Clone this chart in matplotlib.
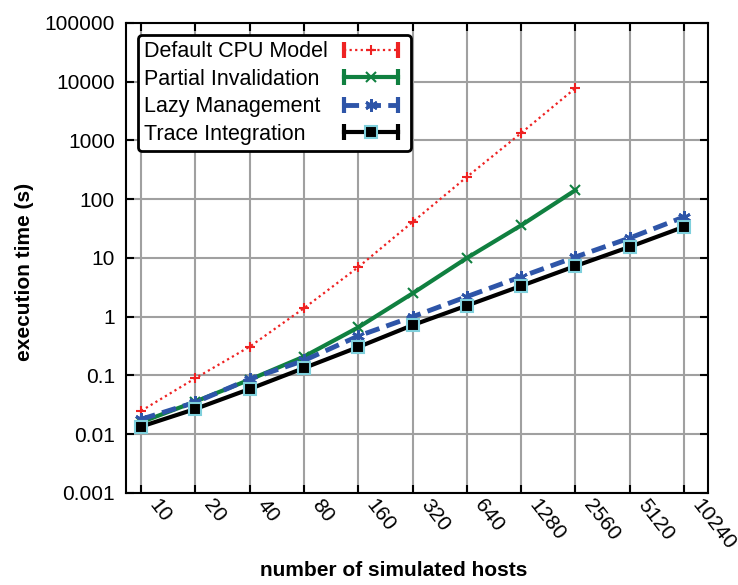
import matplotlib.pyplot as plt
import matplotlib.transforms as mtransforms
from matplotlib.lines import Line2D
from matplotlib.legend_handler import HandlerLine2D
import numpy as np

plt.rcParams['font.family'] = ['Liberation Sans', 'DejaVu Sans']

hosts = [10, 20, 40, 80, 160, 320, 640, 1280, 2560, 5120, 10240]
default_cpu = [0.025, 0.09, 0.31, 1.4, 7.0, 41, 240, 1340, 7800]
partial_inv = [0.016, 0.036, 0.085, 0.21, 0.66, 2.5, 10, 36, 143]
lazy_mgmt = [0.018, 0.035, 0.087, 0.18, 0.47, 1.0, 2.2, 4.8, 10.4, 21.9, 50]
trace_int = [0.0135, 0.027, 0.059, 0.134, 0.305, 0.72, 1.55, 3.35, 7.3, 15.5, 34]

fig = plt.figure(figsize=(7.38, 5.85), dpi=100)
ax = fig.add_axes([0.1707, 0.1573, 0.7886, 0.8034])

x = np.arange(len(hosts))
styles = [
    dict(color='#ee2222', linestyle=(0, (1, 1.5)), linewidth=1.6, marker='+',
         markersize=7, mew=1.5),
    dict(color='#108040', linestyle='-', linewidth=3, marker='x', markersize=7, mew=1.5),
    dict(color='#2e55a8', linestyle=(0, (3, 1.5)), linewidth=3.5, marker=(6, 2, 0),
         markersize=9, mew=2),
    dict(color='black', linestyle='-', linewidth=3, marker='s', markersize=9,
         markerfacecolor='black', markeredgecolor='#7fd0dc', mew=1.5),
]
series = [default_cpu, partial_inv, lazy_mgmt, trace_int]
labels = ['Default CPU Model', 'Partial Invalidation', 'Lazy Management', 'Trace Integration']

for vals, st, lab in zip(series, styles, labels):
    ax.plot(x[:len(vals)], vals, **st)

ax.set_yscale('log')
ax.set_ylim(0.001, 100000)
ax.set_xlim(-0.28, 10.44)
ax.set_yticks([0.001, 0.01, 0.1, 1, 10, 100, 1000, 10000, 100000])
ax.set_yticklabels(['0.001', '0.01', '0.1', '1', '10', '100', '1000', '10000', '100000'])
ax.minorticks_off()
ax.set_xticks(x)
ax.set_xticklabels([str(h) for h in hosts], rotation=-52, ha='left', va='top',
                   rotation_mode='anchor')

ax.tick_params(axis='both', direction='in', length=6, width=1.5, labelsize=15,
               top=True, right=True)
ax.tick_params(axis='x', pad=2)
ax.tick_params(axis='y', pad=8)
ax.grid(True, color='#a0a0a0', linewidth=1.5)
ax.set_axisbelow(True)
for s in ax.spines.values():
    s.set_linewidth(1.5)

# nudge rotated x tick labels to the right of their ticks
shift = mtransforms.ScaledTranslation(0.19, 0.0, fig.dpi_scale_trans)
for t in ax.get_xticklabels():
    t.set_transform(t.get_transform() + shift)

ax.set_ylabel('execution time (s)', fontsize=15, fontweight='bold')
ax.yaxis.set_label_coords(-0.158, 0.47)
ax.set_xlabel('number of simulated hosts', fontsize=15, fontweight='bold')
ax.xaxis.set_label_coords(0.46, -0.145)

# errorbar-style legend keys: line with end caps plus centre marker
handles = []
hmap = {}
for st in styles:
    cap = Line2D([], [], color=st['color'], linestyle=st['linestyle'],
                 linewidth=st['linewidth'], marker='|', markersize=12, mew=3)
    mk = Line2D([], [], linestyle='none', **{k: v for k, v in st.items()
                                           if k not in ('linestyle', 'linewidth')})
    hmap[cap] = HandlerLine2D(numpoints=2)
    hmap[mk] = HandlerLine2D(numpoints=1)
    handles.append((cap, mk))

leg = ax.legend(handles, labels, handler_map=hmap, loc='upper left', markerfirst=False,
                fontsize=15.5, frameon=True, fancybox=True, edgecolor='black',
                framealpha=1, handlelength=3.1, handletextpad=0.45,
                borderaxespad=0.55, labelspacing=0.3, borderpad=0.3)
leg.get_frame().set_linewidth(2)

# left-align label texts (markerfirst=False right-aligns them)
fig.canvas.draw()
r = fig.canvas.get_renderer()
texts = leg.get_texts()
widths = [t.get_window_extent(r).width for t in texts]
wmax = max(widths)
items = leg._legend_handle_box.get_children()[0].get_children()
for item, w in zip(items, widths):
    item.sep = item.sep + (wmax - w) * 72.0 / fig.dpi

plt.savefig('out.png', dpi=100)
